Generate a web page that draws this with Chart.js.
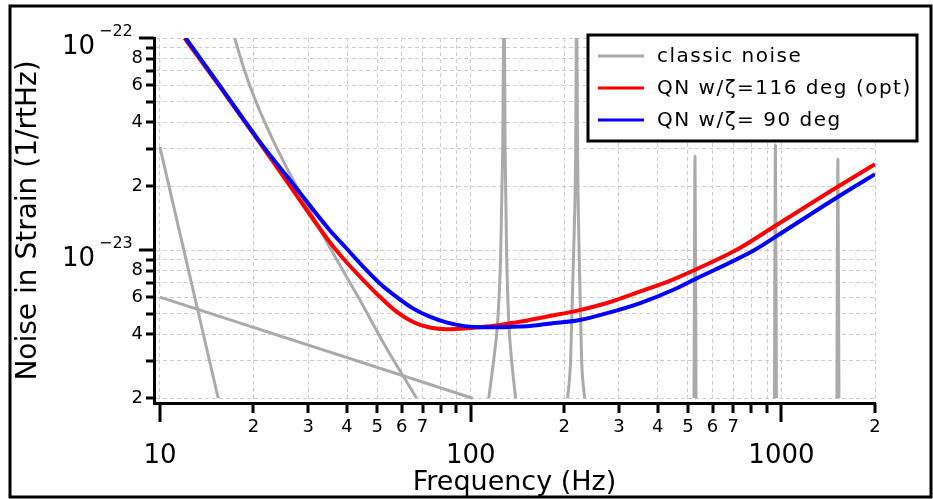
<!DOCTYPE html>
<html>
<head>
<meta charset="utf-8">
<script src="https://cdn.jsdelivr.net/npm/chart.js@4"></script>
<style>
  html, body { margin: 0; padding: 0; background: #fff; }
</style>
</head>
<body>
<canvas id="myChart" width="933" height="499"></canvas>
<script>
const FONT = "'DejaVu Sans', sans-serif";

// axis ranges
const xMin = 9.57, xMax = 2000;
const yMin = 1.9e-24, yMax = 1e-22;

// tick values and labels
const xTickValues = [10, 20, 30, 40, 50, 60, 70, 80, 90, 100, 200, 300, 400, 500, 600, 700, 800, 900, 1000, 2000];
const xTickLabels = ['', '2', '3', '4', '5', '6', '7', '', '', '', '2', '3', '4', '5', '6', '7', '', '', '', '2'];
const xMajorValues = [10, 100, 1000];
const xMajorLabels = ['10', '100', '1000'];

const yTickValues = [2e-24, 3e-24, 4e-24, 5e-24, 6e-24, 7e-24, 8e-24, 9e-24, 1e-23,
                     2e-23, 3e-23, 4e-23, 5e-23, 6e-23, 7e-23, 8e-23, 9e-23, 1e-22];
const yTickLabels = ['2', '', '4', '', '6', '', '8', '', '', '2', '', '4', '', '6', '', '8', '', ''];
const yMajorValues = [1e-23, 1e-22];
const yMajorExp = ['\u221223', '\u221222'];

// quantum noise, squeeze angle 116 deg (opt)
const optFreq = [12.0, 15.6, 20.5, 26.2, 35.2, 39.8, 45.1, 51.0, 57.7, 65.2, 73.8, 83.5, 94.5, 106.9, 121.0,
                 136.8, 154.8, 175.1, 224.2, 273.1, 349.5, 447.3, 525.2, 715.0, 961.6, 1517, 2000];
const optNoise = [1.0e-22, 5.89e-23, 3.35e-23, 2.01e-23, 1.09e-23, 8.78e-24, 7.22e-24, 6.02e-24, 5.12e-24,
                  4.58e-24, 4.31e-24, 4.23e-24, 4.27e-24, 4.33e-24, 4.41e-24, 4.54e-24, 4.68e-24, 4.85e-24,
                  5.21e-24, 5.61e-24, 6.36e-24, 7.26e-24, 8.05e-24, 1.00e-23, 1.31e-23, 1.99e-23, 2.54e-23];

// quantum noise, squeeze angle 90 deg
const deg90Freq = [12.1, 15.7, 21.0, 26.8, 35.2, 39.8, 45.1, 51.0, 57.7, 65.2, 73.8, 83.5, 94.5, 106.9, 121.0,
                   136.8, 154.8, 175.1, 224.2, 273.1, 349.5, 447.3, 525.2, 818.9, 961.6, 1517, 2000];
const deg90Noise = [1.0e-22, 5.87e-23, 3.23e-23, 2.05e-23, 1.24e-23, 1.02e-23, 8.34e-24, 6.96e-24, 6.02e-24,
                    5.31e-24, 4.85e-24, 4.56e-24, 4.39e-24, 4.33e-24, 4.32e-24, 4.35e-24, 4.38e-24, 4.48e-24,
                    4.68e-24, 5.03e-24, 5.61e-24, 6.48e-24, 7.27e-24, 1.00e-23, 1.16e-23, 1.78e-23, 2.28e-23];

// classic noise pieces
const seisFreq = [10, 15.4];
const seisNoise = [3.06e-23, 2.0e-24];
const thermFreq = [10, 101.5];
const thermNoise = [6.0e-24, 2.0e-24];
const suspFreq = [17.4, 18.6, 20.1, 22.1, 25.6, 30.4, 36.5, 44.0, 52.9, 67.0];
const suspNoise = [1.0e-22, 7.22e-23, 5.27e-23, 3.80e-23, 2.44e-23, 1.53e-23, 9.37e-24, 5.81e-24, 3.56e-24, 2.0e-24];
const peak1Freq = [114.3, 118.6, 122.2, 124.9, 126.7, 128.1, 129.1, 130.5, 132.5, 135.4, 139.5];
const peak1Noise = [2.0e-24, 3.03e-24, 4.68e-24, 9.68e-24, 2.87e-23, 1.5e-22, 2.87e-23, 9.68e-24, 4.68e-24, 3.03e-24, 2.0e-24];
const peak2Freq = [205.1, 209.7, 214.4, 217.6, 219.2, 220.8, 223.3, 227.5, 232.6];
const peak2Noise = [2.0e-24, 3.03e-24, 9.68e-24, 2.87e-23, 1.5e-22, 2.87e-23, 9.68e-24, 3.03e-24, 2.0e-24];
const spike1Freq = [523.2, 527.1, 531.1];
const spike1Noise = [2.0e-24, 2.78e-23, 2.0e-24];
const spike2Freq = [949.5, 956.5, 963.6];
const spike2Noise = [2.0e-24, 3.13e-23, 2.0e-24];
const spike3Freq = [1508, 1519.5, 1531];
const spike3Noise = [2.0e-24, 2.69e-23, 2.0e-24];

function pts(fs, ns) {
    return fs.map((f, i) => ({ x: f, y: ns[i] }));
}

function grayLine(fs, ns) {
    return {
        label: 'classic noise',
        data: pts(fs, ns),
        borderColor: '#aaaaaa',
        borderWidth: 3,
        pointRadius: 0,
        cubicInterpolationMode: 'monotone',
        borderJoinStyle: 'bevel',
        clip: 0,
        order: 2
    };
}

const datasets = [
    {
        label: 'QN w/\u03b6= 90 deg',
        data: pts(deg90Freq, deg90Noise),
        borderColor: '#0000ff',
        borderWidth: 4,
        pointRadius: 0,
        cubicInterpolationMode: 'monotone',
        clip: 0,
        order: 0
    },
    {
        label: 'QN w/\u03b6=116 deg (opt)',
        data: pts(optFreq, optNoise),
        borderColor: '#ff0000',
        borderWidth: 4,
        pointRadius: 0,
        cubicInterpolationMode: 'monotone',
        clip: 0,
        order: 1
    },
    grayLine(seisFreq, seisNoise),
    grayLine(thermFreq, thermNoise),
    grayLine(suspFreq, suspNoise),
    grayLine(peak1Freq, peak1Noise),
    grayLine(peak2Freq, peak2Noise),
    grayLine(spike1Freq, spike1Noise),
    grayLine(spike2Freq, spike2Noise),
    grayLine(spike3Freq, spike3Noise)
];

// legend order as in the picture
const legendOrder = ['classic noise', 'QN w/\u03b6=116 deg (opt)', 'QN w/\u03b6= 90 deg'];

const decor = {
    id: 'decor',
    beforeDraw(chart) {
        const ctx = chart.ctx;
        ctx.save();
        ctx.fillStyle = '#fff';
        ctx.fillRect(0, 0, chart.width, chart.height);
        ctx.restore();
    },
    afterDraw(chart) {
        const ctx = chart.ctx;
        const xs = chart.scales.x, ys = chart.scales.y, area = chart.chartArea;
        ctx.save();

        // tick marks
        ctx.strokeStyle = '#000';
        ctx.lineWidth = 3;
        ctx.beginPath();
        xTickValues.forEach(v => {
            const px = Math.round(xs.getPixelForValue(v));
            const len = xMajorValues.includes(v) ? 19 : 10;
            ctx.moveTo(px, area.bottom);
            ctx.lineTo(px, area.bottom + len);
        });
        yTickValues.forEach(v => {
            const py = Math.round(ys.getPixelForValue(v));
            const len = yMajorValues.includes(v) ? 15 : 8;
            ctx.moveTo(area.left, py);
            ctx.lineTo(area.left - len, py);
        });
        ctx.stroke();

        // decade labels on x
        ctx.fillStyle = '#000';
        ctx.font = '26px ' + FONT;
        ctx.textAlign = 'center';
        ctx.textBaseline = 'alphabetic';
        xMajorValues.forEach((v, i) => {
            ctx.fillText(xMajorLabels[i], xs.getPixelForValue(v), 463);
        });

        // decade labels on y (10 with exponent)
        yMajorValues.forEach((v, i) => {
            const py = ys.getPixelForValue(v);
            ctx.font = '26px ' + FONT;
            ctx.textAlign = 'right';
            ctx.fillText('10', 95, py + 16);
            ctx.font = '16px ' + FONT;
            ctx.textAlign = 'left';
            ctx.fillText(yMajorExp[i], 99, py - 2);
        });

        // legend
        const lx = 588, ly = 35, lw = 329, lh = 106;
        ctx.fillStyle = '#fff';
        ctx.fillRect(lx, ly, lw, lh);
        ctx.lineWidth = 3;
        ctx.strokeStyle = '#000';
        ctx.strokeRect(lx, ly, lw, lh);
        ctx.font = '20px ' + FONT;
        ctx.letterSpacing = '1.5px';
        ctx.textAlign = 'left';
        ctx.textBaseline = 'middle';
        legendOrder.forEach((name, i) => {
            const ds = chart.data.datasets.find(d => d.label === name);
            const y = 56 + i * 32;
            ctx.strokeStyle = ds.borderColor;
            ctx.lineWidth = 3;
            ctx.beginPath();
            ctx.moveTo(598, y);
            ctx.lineTo(644, y);
            ctx.stroke();
            ctx.fillStyle = '#000';
            ctx.fillText(name, 657, y + 1);
        });
        ctx.letterSpacing = '0px';

        // outer frame
        ctx.lineWidth = 3;
        ctx.strokeStyle = '#000';
        ctx.strokeRect(10, 6, 921, 491);
        ctx.restore();
    }
};

new Chart(document.getElementById('myChart').getContext('2d'), {
    type: 'line',
    data: { datasets: datasets },
    options: {
        responsive: false,
        animation: false,
        devicePixelRatio: 1,
        layout: { padding: { left: 0, top: 38, right: 58, bottom: 0 } },
        plugins: {
            legend: { display: false },
            tooltip: { enabled: false }
        },
        scales: {
            x: {
                type: 'logarithmic',
                min: xMin,
                max: xMax,
                bounds: 'data',
                afterBuildTicks: s => { s.ticks = xTickValues.map(v => ({ value: v })); },
                afterFit: s => { s.height = 96; },
                ticks: {
                    autoSkip: false,
                    maxRotation: 0,
                    padding: 14,
                    color: '#000',
                    font: { family: FONT, size: 18 },
                    callback: (v, i) => xTickLabels[i]
                },
                grid: { color: '#cccccc', lineWidth: 1, drawTicks: false },
                border: { display: true, color: '#000', width: 3, dash: [4, 3] },
                title: {
                    display: true,
                    text: 'Frequency (Hz)',
                    color: '#000',
                    font: { family: FONT, size: 27 },
                    padding: { top: 0, bottom: 0 }
                }
            },
            y: {
                type: 'logarithmic',
                min: yMin,
                max: yMax,
                bounds: 'data',
                afterBuildTicks: s => { s.ticks = yTickValues.map(v => ({ value: v })); },
                afterFit: s => { s.width = 154; },
                ticks: {
                    autoSkip: false,
                    padding: 11,
                    color: '#000',
                    font: { family: FONT, size: 18 },
                    callback: (v, i) => yTickLabels[i]
                },
                grid: { color: '#cccccc', lineWidth: 1, drawTicks: false },
                border: { display: true, color: '#000', width: 3, dash: [4, 3] },
                title: {
                    display: true,
                    text: 'Noise in Strain (1/rtHz)',
                    color: '#000',
                    font: { family: FONT, size: 28 },
                    padding: { top: 12, bottom: 0 }
                }
            }
        }
    },
    plugins: [decor]
});
</script>
</body>
</html>
